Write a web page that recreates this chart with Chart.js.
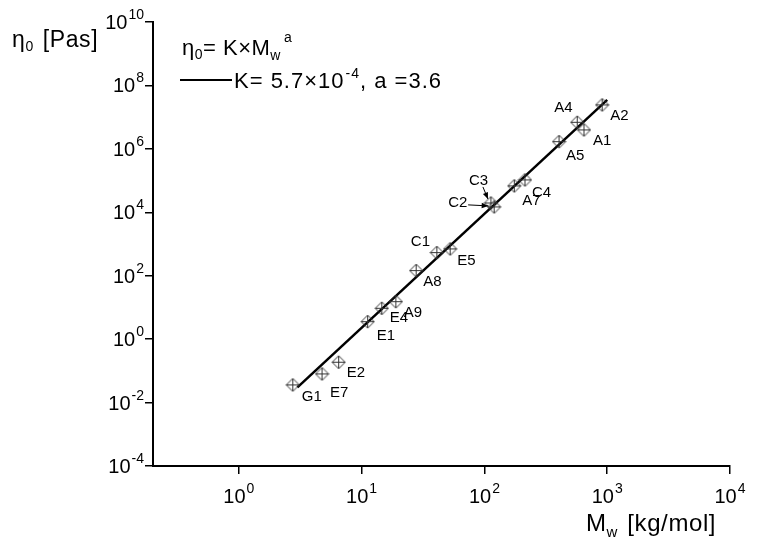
<!DOCTYPE html>
<html>
<head>
<meta charset="utf-8">
<script src="https://cdn.jsdelivr.net/npm/chart.js@4"></script>
<style>
  body { margin: 0; background: #fff; }
  #wrap { width: 758px; height: 548px; }
</style>
</head>
<body>
<div id="wrap"><canvas id="viscChart" width="758" height="548"></canvas></div>
<script>
// sample data (Mw in kg/mol, eta0 in Pa s)
const sampleNames = ['G1', 'E7', 'E2', 'E1', 'E4', 'A9', 'A8', 'C1', 'E5', 'C3', 'C2', 'A7', 'C4', 'A5', 'A4', 'A1', 'A2'];
const molarMass = [2.75, 4.76, 6.5, 11.2, 14.6, 19.0, 27.8, 41, 52.6, 113, 120, 175, 214, 405, 570, 647, 910];
const viscosity = [0.036, 0.080, 0.187, 3.56, 9.4, 15.2, 145, 535, 700, 19700, 14800, 67800, 105000, 1.69e6, 6.9e6, 3.96e6, 2.43e7];

// end points of the fitted line K*Mw^a
const fitMass = [3.0, 1000];
const fitViscosity = [0.030, 3.5e7];

const xTickValues = [1, 10, 100, 1000, 10000];
const yTickValues = [1e-4, 1e-2, 1, 1e2, 1e4, 1e6, 1e8, 1e10];

// label placement relative to each marker (pixels: dx to text left, dy to baseline)
const labelOffsets = {
    G1: [9, 16], E7: [8, 23], E2: [8, 15], E1: [9, 18], E4: [8, 14], A9: [8, 15],
    A8: [7, 15], C1: [-26, -7], E5: [7, 16], C3: [-22, -18], C2: [-46, 0], A7: [8, 19],
    C4: [7, 17], A5: [7, 18], A4: [-23, -10], A1: [9, 15], A2: [8, 15]
};
// arrows pointing at C2 and C3 (from, to) relative to the marker
const labelArrows = {
    C2: [[-26, -2], [-6, -1]],
    C3: [[-8, -16], [-3, -4]]
};

const FONT = '"Liberation Sans", Arial, sans-serif';

// crossed diamond marker
function makeMarker() {
    const c = document.createElement('canvas');
    c.width = 15; c.height = 15;
    const g = c.getContext('2d');
    g.strokeStyle = '#333';
    g.lineWidth = 1;
    g.beginPath();
    g.moveTo(7.5, 1); g.lineTo(14, 7.5); g.lineTo(7.5, 14); g.lineTo(1, 7.5); g.closePath();
    g.moveTo(1, 7.5); g.lineTo(14, 7.5);
    g.moveTo(7.5, 1); g.lineTo(7.5, 14);
    g.stroke();
    return c;
}

// draw text made of pieces with different size / vertical shift
function drawRich(ctx, x, y, parts, align, spacing) {
    ctx.letterSpacing = (spacing || 0) + 'px';
    let total = 0;
    parts.forEach(p => {
        ctx.font = p.size + 'px ' + FONT;
        p.w = ctx.measureText(p.t).width + (p.dx || 0);
        total += p.w;
    });
    let cx = x;
    if (align === 'right') cx = x - total;
    if (align === 'center') cx = x - total / 2;
    ctx.textAlign = 'left';
    ctx.textBaseline = 'alphabetic';
    parts.forEach(p => {
        ctx.font = p.size + 'px ' + FONT;
        ctx.fillText(p.t, cx + (p.dx || 0), y + (p.dy || 0));
        cx += p.w;
    });
    ctx.letterSpacing = '0px';
}

const textPlugin = {
    id: 'textPlugin',
    afterDraw(chart) {
        const ctx = chart.ctx;
        const xs = chart.scales.x, ys = chart.scales.y;
        ctx.save();
        ctx.fillStyle = '#000';

        // tick labels as powers of ten
        xTickValues.forEach(v => {
            const px = xs.getPixelForValue(v);
            const e = Math.round(Math.log10(v));
            drawRich(ctx, px, ys.bottom + 37, [{ t: '10', size: 20 }, { t: String(e), size: 14, dy: -10, dx: 1 }], 'center');
        });
        yTickValues.forEach(v => {
            const py = ys.getPixelForValue(v);
            const e = Math.round(Math.log10(v));
            drawRich(ctx, xs.left - 9, py + 7, [{ t: '10', size: 20 }, { t: String(e), size: 14, dy: -10, dx: 1 }], 'right');
        });

        // axis titles
        drawRich(ctx, 12, 47, [{ t: 'η', size: 23 }, { t: '0', size: 14, dy: 4 }, { t: ' [Pas]', size: 23, dx: 2 }], 'left', 0.6);
        drawRich(ctx, 586, 531, [{ t: 'M', size: 24 }, { t: 'w', size: 15, dy: 6 }, { t: ' [kg/mol]', size: 24, dx: 2 }], 'left', 0.6);

        // legend
        drawRich(ctx, 182, 55, [
            { t: 'η', size: 22 }, { t: '0', size: 14, dy: 4 }, { t: '= K×M', size: 22 },
            { t: 'w', size: 14, dy: 5 }, { t: 'a', size: 14, dy: -13, dx: 3 }
        ], 'left', 0.5);
        ctx.strokeStyle = '#000';
        ctx.lineWidth = 2;
        ctx.beginPath();
        ctx.moveTo(180, 80); ctx.lineTo(232, 80);
        ctx.stroke();
        drawRich(ctx, 234, 88, [
            { t: 'K= 5.7×10', size: 22 }, { t: '-4', size: 14, dy: -10, dx: 1 }, { t: ', a =3.6', size: 22 }
        ], 'left', 1);

        // sample labels
        const meta = chart.getDatasetMeta(0);
        ctx.font = '15px ' + FONT;
        ctx.lineWidth = 1;
        sampleNames.forEach((name, i) => {
            const pt = meta.data[i];
            const off = labelOffsets[name];
            ctx.fillText(name, pt.x + off[0], pt.y + off[1]);
            const arr = labelArrows[name];
            if (arr) {
                const x0 = pt.x + arr[0][0], y0 = pt.y + arr[0][1];
                const x1 = pt.x + arr[1][0], y1 = pt.y + arr[1][1];
                const ang = Math.atan2(y1 - y0, x1 - x0);
                ctx.beginPath();
                ctx.moveTo(x0, y0); ctx.lineTo(x1, y1);
                ctx.stroke();
                ctx.beginPath();
                ctx.moveTo(x1, y1);
                ctx.lineTo(x1 - 7 * Math.cos(ang - 0.4), y1 - 7 * Math.sin(ang - 0.4));
                ctx.lineTo(x1 - 7 * Math.cos(ang + 0.4), y1 - 7 * Math.sin(ang + 0.4));
                ctx.closePath();
                ctx.fill();
            }
        });
        ctx.restore();
    }
};

const marker = makeMarker();

new Chart(document.getElementById('viscChart'), {
    type: 'scatter',
    data: {
        datasets: [
            {
                label: 'samples',
                data: molarMass.map((m, i) => ({ x: m, y: viscosity[i] })),
                pointStyle: marker,
                pointRadius: 7,
                showLine: false
            },
            {
                label: 'fit',
                data: fitMass.map((m, i) => ({ x: m, y: fitViscosity[i] })),
                showLine: true,
                borderColor: '#000',
                borderWidth: 2.5,
                pointRadius: 0
            }
        ]
    },
    options: {
        responsive: false,
        animation: false,
        layout: { padding: { left: 145, right: 28, top: 22, bottom: 74 } },
        plugins: { legend: { display: false }, tooltip: { enabled: false } },
        scales: {
            x: {
                type: 'logarithmic',
                min: 0.2,
                max: 1e4,
                afterBuildTicks: s => { s.ticks = xTickValues.map(v => ({ value: v })); },
                ticks: { display: false },
                grid: { drawOnChartArea: false, drawTicks: true, tickLength: 8, color: '#000', lineWidth: 1.5 },
                border: { display: true, color: '#000', width: 2 }
            },
            y: {
                type: 'logarithmic',
                min: 1e-4,
                max: 1e10,
                afterBuildTicks: s => { s.ticks = yTickValues.map(v => ({ value: v })); },
                ticks: { display: false },
                grid: { drawOnChartArea: false, drawTicks: true, tickLength: 8, color: '#000', lineWidth: 1.5 },
                border: { display: true, color: '#000', width: 2 }
            }
        }
    },
    plugins: [textPlugin]
});
</script>
</body>
</html>
